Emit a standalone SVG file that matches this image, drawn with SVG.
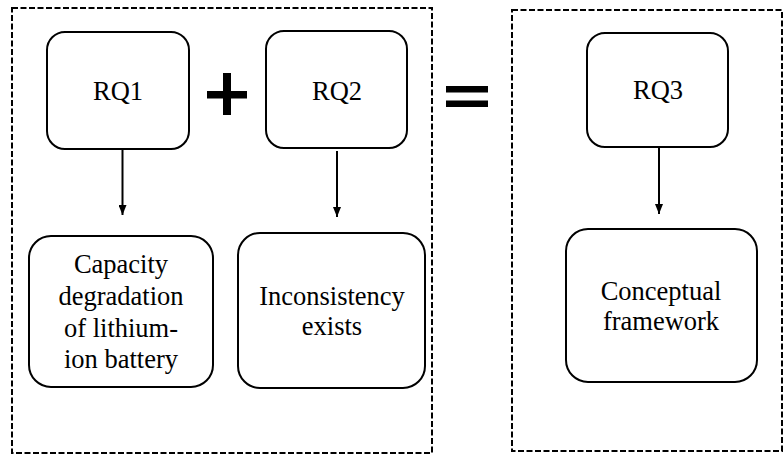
<svg xmlns="http://www.w3.org/2000/svg" width="784" height="455" viewBox="0 0 784 455">
<defs>
<style>
.frame{fill:none;stroke:#000;stroke-width:2;stroke-dasharray:6 2.5}
.node{fill:#fff;stroke:#000;stroke-width:2}
.lbl{font-size:26.5px;fill:#000;text-anchor:middle}
.conn{stroke:#000;stroke-width:2;fill:none}
</style>
<marker id="ah" viewBox="0 0 10 8" refX="10" refY="4" markerWidth="10" markerHeight="8" markerUnits="userSpaceOnUse" orient="auto">
<path d="M0,0 L10,4 L0,8 z" fill="#000"/>
</marker>
</defs>
<rect width="784" height="455" fill="#fff"/>
<rect class="frame" x="12" y="8" width="420" height="445"/>
<rect class="frame" x="512" y="10" width="270" height="441"/>
<g id="plus">
<rect x="207" y="91" width="40" height="7.5" fill="#000"/>
<rect x="223" y="73" width="8" height="42" fill="#000"/>
</g>
<g id="equals">
<rect x="446" y="86" width="42" height="6.5" fill="#000"/>
<rect x="446" y="100.5" width="42" height="6.5" fill="#000"/>
</g>
<g font-family="'Liberation Serif', 'Times New Roman', Tinos, 'DejaVu Serif', serif">
<g id="rq1">
<rect class="node" x="47" y="32" width="142" height="117" rx="18"/>
<text class="lbl" x="118" y="100">RQ1</text>
</g>
<g id="rq2">
<rect class="node" x="266" y="31" width="141" height="117" rx="18"/>
<text class="lbl" x="337" y="100">RQ2</text>
</g>
<g id="rq3">
<rect class="node" x="587" y="33" width="141" height="114" rx="18"/>
<text class="lbl" x="658" y="99">RQ3</text>
</g>
<g id="capacity">
<rect class="node" x="29" y="236" width="184" height="151" rx="22"/>
<text class="lbl" x="121" y="273">Capacity</text>
<text class="lbl" x="121" y="305">degradation</text>
<text class="lbl" x="121" y="337">of lithium-</text>
<text class="lbl" x="121" y="368">ion battery</text>
</g>
<g id="inconsistency">
<rect class="node" x="238" y="233" width="187" height="155" rx="22"/>
<text class="lbl" x="332" y="305">Inconsistency</text>
<text class="lbl" x="332" y="335">exists</text>
</g>
<g id="conceptual">
<rect class="node" x="566" y="229" width="191" height="153" rx="22"/>
<text class="lbl" x="661" y="300">Conceptual</text>
<text class="lbl" x="661" y="330">framework</text>
</g>
</g>
<g id="connectors">
<line class="conn" x1="122.5" y1="149" x2="122.5" y2="215" marker-end="url(#ah)"/>
<line class="conn" x1="337" y1="151" x2="337" y2="217" marker-end="url(#ah)"/>
<line class="conn" x1="659" y1="148" x2="659" y2="214" marker-end="url(#ah)"/>
</g>
</svg>
